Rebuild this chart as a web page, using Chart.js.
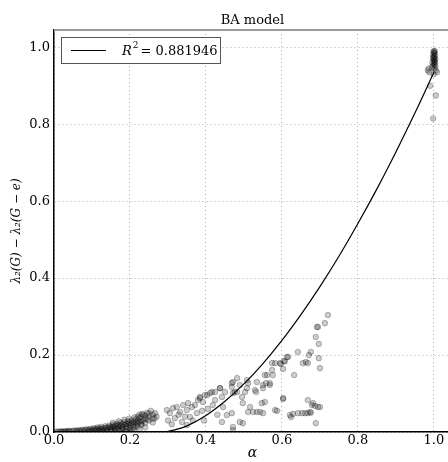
<!DOCTYPE html>
<html>
<head>
<meta charset="utf-8">
<script src="https://cdn.jsdelivr.net/npm/chart.js@4.4.0/dist/chart.umd.min.js"></script>
<style>
  html, body { margin: 0; padding: 0; background: #fff; overflow: hidden; }
  #wrap { width: 448px; height: 462px; overflow: hidden; }
</style>
</head>
<body>
<div id="wrap"><canvas id="c" width="460" height="462"></canvas></div>
<script>
  // tick labels
  const xTicks = [0, 0.2, 0.4, 0.6, 0.8, 1.0];
  const yTicks = [0, 0.2, 0.4, 0.6, 0.8, 1.0];

  // fitted curve
  const fitX = [0.29, 0.32, 0.35, 0.4, 0.45, 0.5, 0.55, 0.6, 0.65, 0.7, 0.75, 0.8, 0.85, 0.9, 0.95, 1.0];
  const fitY = [0, 0.006, 0.016, 0.043, 0.08, 0.125, 0.178, 0.238, 0.305, 0.378, 0.457, 0.542, 0.632, 0.728, 0.829, 0.935];
  const fitLabel = '0.881946';

  // scatter groups [alpha, gap]
  const lowBand = [
    [0.005,0.001],[0.01,0.001],[0.015,0.001],[0.02,0.002],[0.025,0.001],[0.03,0.002],[0.035,0.002],[0.04,0.003],
    [0.045,0.002],[0.05,0.003],[0.055,0.004],[0.06,0.003],[0.065,0.005],[0.07,0.004],[0.075,0.006],[0.08,0.005],
    [0.085,0.007],[0.09,0.006],[0.095,0.008],[0.1,0.007],[0.1,0.003],[0.105,0.01],[0.11,0.008],[0.11,0.004],
    [0.115,0.012],[0.12,0.01],[0.12,0.005],[0.125,0.013],[0.13,0.009],[0.13,0.003],[0.135,0.015],[0.14,0.012],
    [0.14,0.006],[0.145,0.017],[0.15,0.014],[0.15,0.008],[0.15,0.002],[0.155,0.019],[0.16,0.016],[0.16,0.01],
    [0.16,0.004],[0.165,0.021],[0.17,0.018],[0.17,0.012],[0.17,0.005],[0.175,0.024],[0.18,0.02],[0.18,0.014],
    [0.18,0.006],[0.185,0.026],[0.19,0.022],[0.19,0.015],[0.19,0.008],[0.195,0.028],[0.2,0.025],[0.2,0.018],
    [0.2,0.01],[0.2,0.003],[0.205,0.03],[0.21,0.026],[0.21,0.02],[0.21,0.012],[0.215,0.033],[0.22,0.03],
    [0.22,0.022],[0.22,0.014],[0.225,0.036],[0.23,0.04],[0.23,0.028],[0.23,0.018],[0.235,0.045],[0.24,0.035],
    [0.24,0.024],[0.245,0.05],[0.25,0.04],[0.25,0.03],[0.255,0.055],[0.26,0.045],[0.26,0.025],[0.265,0.035],
    [0.266,0.049],[0.27,0.04],[0.175,0.003],[0.185,0.002],[0.205,0.005],[0.225,0.008],[0.24,0.012],
    [0.03,0.001],[0.06,0.002],[0.09,0.003],[0.105,0.005],[0.115,0.007],[0.125,0.008],[0.135,0.01],[0.145,0.011],
    [0.155,0.013],[0.165,0.015],[0.175,0.017],[0.185,0.019],[0.195,0.021],[0.205,0.023],[0.215,0.025],[0.225,0.027],
    [0.235,0.03],[0.245,0.033],[0.14,0.002],[0.16,0.001],[0.19,0.002],[0.21,0.006],[0.22,0.04],[0.232,0.047],
    [0.225,0.045],[0.24,0.043],[0.25,0.048],[0.212,0.038],[0.198,0.035],[0.185,0.032],[0.17,0.028],[0.155,0.024],
    [0.02,0.0],[0.04,0.001],[0.07,0.001],[0.08,0.002],[0.095,0.002],[0.12,0.002],[0.13,0.001],[0.15,0.005],
    [0.165,0.008],[0.18,0.01],[0.195,0.012],[0.215,0.016],[0.23,0.022],[0.26,0.035]
  ];
  const midCloud = [
    [0.297,0.057],[0.305,0.049],[0.313,0.062],[0.323,0.065],[0.318,0.036],[0.332,0.052],[0.34,0.07],[0.35,0.057],
    [0.353,0.075],[0.363,0.065],[0.371,0.07],[0.379,0.083],[0.384,0.091],[0.392,0.078],[0.397,0.096],[0.376,0.049],
    [0.358,0.039],[0.337,0.026],[0.35,0.018],[0.411,0.101],[0.416,0.104],[0.424,0.083],[0.418,0.07],[0.437,0.114],
    [0.442,0.091],[0.45,0.104],[0.445,0.065],[0.442,0.026],[0.455,0.044],[0.468,0.049],[0.468,0.127],[0.471,0.101],
    [0.482,0.104],[0.489,0.122],[0.495,0.091],[0.497,0.075],[0.503,0.104],[0.508,0.135],[0.511,0.052],[0.516,0.065],
    [0.524,0.052],[0.532,0.104],[0.542,0.052],[0.547,0.075],[0.55,0.122],[0.555,0.148],[0.568,0.127],[0.574,0.179],
    [0.582,0.057],[0.595,0.179],[0.471,0.013],[0.471,0.005],[0.489,0.026],[0.497,0.023],[0.482,0.14],[0.471,0.13],
    [0.468,0.117],[0.476,0.104],[0.511,0.127],[0.508,0.114],[0.437,0.114],[0.424,0.104],[0.403,0.096],[0.384,0.088],
    [0.534,0.13],[0.55,0.114],[0.529,0.109],[0.561,0.148],[0.574,0.161],[0.576,0.148],[0.558,0.127],[0.616,0.195],
    [0.608,0.184],[0.582,0.179],[0.603,0.088],[0.587,0.055],[0.568,0.122],[0.555,0.078],[0.534,0.052],[0.55,0.049],
    [0.3,0.03],[0.31,0.02],[0.328,0.045],[0.345,0.04],[0.365,0.03],[0.39,0.055],[0.405,0.06],[0.43,0.045],[0.395,0.03]
  ];
  const tailGroup = [
    [0.642,0.208],[0.613,0.195],[0.605,0.184],[0.597,0.177],[0.603,0.164],[0.632,0.148],[0.655,0.179],[0.663,0.182],
    [0.668,0.179],[0.671,0.2],[0.676,0.208],[0.697,0.192],[0.7,0.166],[0.689,0.247],[0.697,0.229],[0.692,0.273],
    [0.695,0.273],[0.713,0.283],[0.721,0.304],[0.603,0.086],[0.668,0.083],[0.682,0.075],[0.679,0.07],[0.687,0.068],
    [0.695,0.065],[0.7,0.065],[0.621,0.044],[0.624,0.039],[0.629,0.047],[0.642,0.049],[0.653,0.049],[0.661,0.049],
    [0.668,0.049],[0.674,0.052],[0.676,0.05],[0.689,0.023]
  ];
  const topCluster = [
    [1.0,0.99],[1.002,0.985],[0.998,0.98],[1.003,0.978],[1.0,0.975],[0.997,0.972],[1.004,0.97],[1.001,0.968],
    [0.999,0.965],[1.003,0.962],[0.996,0.96],[1.0,0.958],[1.002,0.955],[0.998,0.952],[1.004,0.95],[0.995,0.948],
    [1.001,0.945],[0.986,0.945],[0.984,0.94],[0.988,0.935],[1.005,0.94],[1.008,0.935],[0.999,0.93],[0.99,0.9],
    [1.005,0.875],[0.998,0.815],[1.002,0.99],[0.999,0.988],[1.001,0.983],[1.0,0.972],[1.002,0.963]
  ];

  const toPts = arr => arr.map(p => ({ x: p[0], y: p[1] }));
  const scatterPts = [].concat(toPts(lowBand), toPts(midCloud), toPts(tailGroup), toPts(topCluster));
  const fitPts = fitX.map((x, i) => ({ x: x, y: fitY[i] }));

  const serif = '"DejaVu Serif", serif';

  const extras = {
    id: 'extras',
    afterDraw(chart){
      const { ctx, chartArea: a } = chart;
      ctx.save();
      // top spine (grey)
      ctx.strokeStyle = '#9a9a9a'; ctx.lineWidth = 2;
      ctx.beginPath(); ctx.moveTo(a.left, a.top); ctx.lineTo(a.right, a.top); ctx.stroke();
      // title
      ctx.fillStyle = '#000';
      ctx.font = '13px ' + serif;
      ctx.textAlign = 'center'; ctx.textBaseline = 'bottom';
      ctx.fillText('BA model', (a.left + a.right) / 2, a.top - 3);
      // legend
      const lx = 61, ly = 37, lw = 159, lh = 26;
      ctx.fillStyle = '#fff'; ctx.fillRect(lx, ly, lw, lh);
      ctx.strokeStyle = '#555'; ctx.lineWidth = 1;
      ctx.strokeRect(lx + 0.5, ly + 0.5, lw, lh);
      ctx.strokeStyle = '#000';
      ctx.beginPath(); ctx.moveTo(71, 50.5); ctx.lineTo(106, 50.5); ctx.stroke();
      ctx.fillStyle = '#000'; ctx.textAlign = 'left'; ctx.textBaseline = 'alphabetic';
      let tx = 122;
      ctx.font = 'italic 13px ' + serif;
      ctx.fillText('R', tx, 55); tx += ctx.measureText('R').width;
      ctx.font = '9px ' + serif;
      ctx.fillText('2', tx + 1, 48); tx += ctx.measureText('2').width + 3;
      ctx.font = '13px ' + serif;
      ctx.fillText('= ' + fitLabel, tx, 55);
      ctx.restore();
    }
  };

  const tickFont = { family: serif, size: 13 };

  new Chart(document.getElementById('c'), {
    type: 'scatter',
    data: {
      datasets: [
        {
          label: 'points',
          data: scatterPts,
          pointRadius: 2.8,
          pointBackgroundColor: 'rgba(0,0,0,0.2)',
          pointBorderColor: 'rgba(0,0,0,0.25)',
          pointBorderWidth: 1,
          order: 2
        },
        {
          type: 'line',
          label: 'fit',
          data: fitPts,
          borderColor: '#000',
          borderWidth: 1.2,
          pointRadius: 0,
          fill: false,
          cubicInterpolationMode: 'monotone',
          order: 1
        }
      ]
    },
    options: {
      responsive: false,
      animation: false,
      layout: { padding: { top: 30, right: 9, left: 0, bottom: 0 } },
      plugins: { legend: { display: false }, tooltip: { enabled: false }, title: { display: false } },
      scales: {
        x: {
          type: 'linear', min: 0, max: 1.045,
          afterBuildTicks: s => { s.ticks = xTicks.map(v => ({ value: v })); },
          afterFit: s => { s.height = 30; },
          ticks: { font: tickFont, color: '#000', padding: 1, maxRotation: 0, callback: v => v.toFixed(1) },
          grid: { color: '#a8a8a8', drawTicks: false, lineWidth: 1 },
          border: { color: '#000', width: 1.5, dash: [1, 3] },
          title: { display: true, text: 'α', font: { family: serif, size: 14, style: 'italic' }, color: '#000', padding: { top: 12, bottom: 0 } }
        },
        y: {
          type: 'linear', min: 0, max: 1.045,
          afterBuildTicks: s => { s.ticks = yTicks.map(v => ({ value: v })); },
          afterFit: s => { s.width = 54; },
          ticks: { font: tickFont, color: '#000', padding: 4, callback: v => v.toFixed(1) },
          grid: { color: '#a8a8a8', drawTicks: false, lineWidth: 1 },
          border: { color: '#000', width: 1.5, dash: [1, 3] },
          title: { display: true, text: 'λ₂(G) − λ₂(G − e)', font: { family: serif, size: 12, style: 'italic' }, color: '#000', padding: { top: 10, bottom: 0 } }
        }
      }
    },
    plugins: [extras]
  });
</script>
</body>
</html>
